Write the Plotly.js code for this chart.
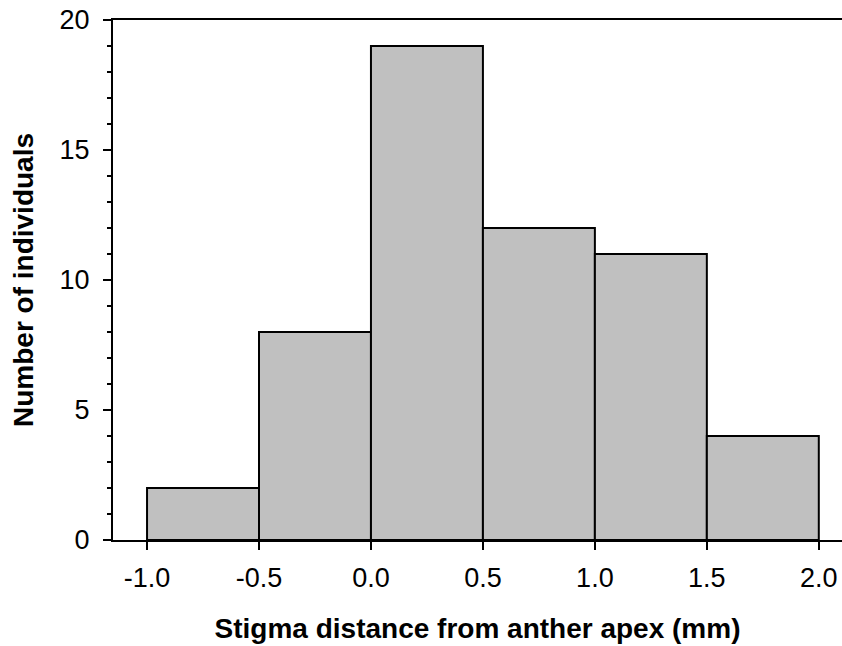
<!DOCTYPE html>
<html>
<head>
<meta charset="utf-8">
<script src="https://cdn.plot.ly/plotly-3.0.1.min.js"></script>
<style>html,body{margin:0;padding:0;background:#fff;}#chart{width:842px;height:646px;}</style>
</head>
<body>
<div id="chart"></div>
<script>
// Data
const binStarts = [-1.0, -0.5, 0.0, 0.5, 1.0, 1.5];
const binWidth = 0.5;
const counts = [2, 8, 19, 12, 11, 4];
const xTickVals = [-1.0, -0.5, 0.0, 0.5, 1.0, 1.5, 2.0];
const xTickText = ['-1.0', '-0.5', '0.0', '0.5', '1.0', '1.5', '2.0'];
const yTickVals = [0, 5, 10, 15, 20];

const font = 'Liberation Sans, Arial, sans-serif';

const trace = {
  type: 'bar',
  x: binStarts,
  y: counts,
  width: binStarts.map(() => binWidth),
  offset: 0,
  marker: {color: '#c0c0c0', line: {color: '#000', width: 2}},
  hoverinfo: 'x+y'
};

const layout = {
  width: 842, height: 646,
  margin: {l: 113, r: 0, t: 20, b: 106},
  paper_bgcolor: '#fff', plot_bgcolor: '#fff',
  showlegend: false,
  bargap: 0,
  xaxis: {
    range: [-1.152, 2.1036],
    tickmode: 'array', tickvals: xTickVals, ticktext: xTickText,
    ticks: 'outside', ticklen: 8, tickwidth: 2, tickcolor: '#000',
    ticklabelstandoff: 5,
    showline: true, linecolor: '#000', linewidth: 2, mirror: true,
    showgrid: false, zeroline: false,
    tickfont: {family: font, size: 27, color: '#000'},
    title: {text: 'Stigma distance from anther apex (mm)', font: {family: font, size: 28, color: '#000', weight: 'bold'}, standoff: 26}
  },
  yaxis: {
    range: [0, 20],
    tickmode: 'array', tickvals: yTickVals,
    ticks: 'outside', ticklen: 8, tickwidth: 2, tickcolor: '#000',
    ticklabelstandoff: 8,
    minor: {dtick: 1, ticks: 'outside', ticklen: 4, tickwidth: 1.5, tickcolor: '#000', showgrid: false},
    showline: true, linecolor: '#000', linewidth: 2,
    showgrid: false, zeroline: false,
    tickfont: {family: font, size: 27, color: '#000'},
    title: {text: 'Number of individuals', font: {family: font, size: 28, color: '#000', weight: 'bold'}, standoff: 18}
  }
};

Plotly.newPlot('chart', [trace], layout, {displayModeBar: false, staticPlot: true});
</script>
</body>
</html>
